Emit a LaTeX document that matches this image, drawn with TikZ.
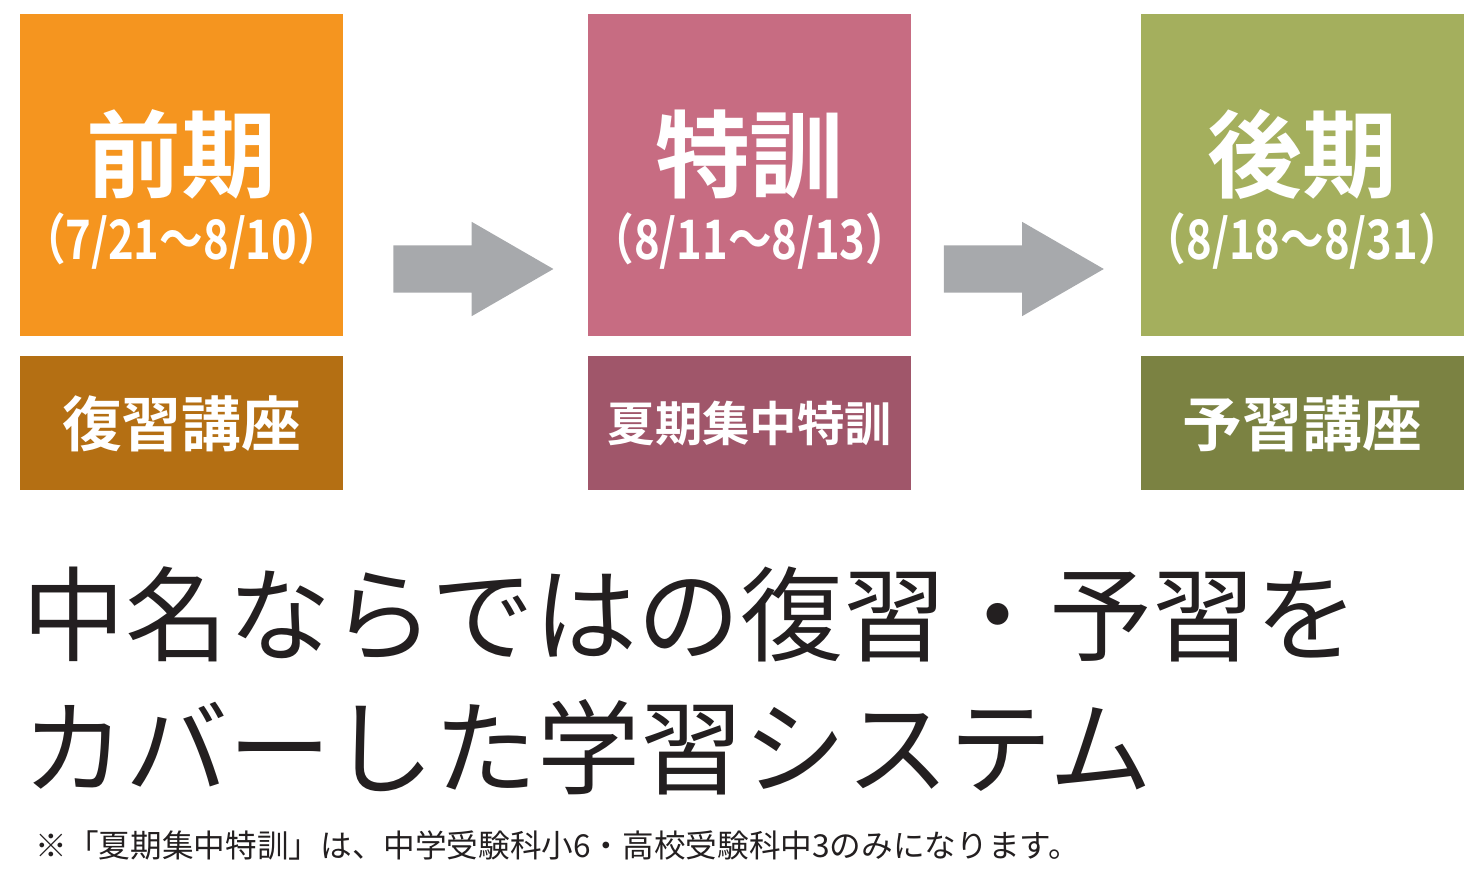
\documentclass[tikz,border=0pt]{standalone}
\usepackage{fontspec}
\setmainfont{Noto Sans CJK JP}[BoldFont={Noto Sans CJK JP Bold}]
\setsansfont{Noto Sans CJK JP}[BoldFont={Noto Sans CJK JP Bold}]
\usetikzlibrary{positioning, shapes.arrows, calc}

\definecolor{zenki}{HTML}{F5951F}
\definecolor{zenkidark}{HTML}{B46F13}
\definecolor{tokkun}{HTML}{C76C82}
\definecolor{tokkundark}{HTML}{A0566A}
\definecolor{kouki}{HTML}{A4AF5D}
\definecolor{koukidark}{HTML}{7B8242}
\definecolor{arrowgray}{HTML}{A7A9AC}
\definecolor{ink}{HTML}{231F20}

\newcommand{\kikan}[2]{{\fontsize{27}{30}\selectfont\bfseries\rule{0pt}{1.1cm}#1}\\[0.1cm]
  {\fontsize{15.5}{18}\selectfont\bfseries\scalebox{0.8}[1]{#2}}}

\begin{document}
\begin{tikzpicture} [ font=\sffamily
                    , topbox/.style={minimum width=3.23cm, minimum height=3.22cm, inner sep=0pt, text=white, align=center}
                    , subbox/.style={minimum width=3.23cm, minimum height=1.34cm, inner sep=0pt, text=white, font=\sffamily\bfseries}
                    , blockarrow/.style={shape=single arrow, fill=arrowgray, inner xsep=0pt, inner ysep=0.23cm,
                                         minimum height=1.6cm, minimum width=0.93cm,
                                         single arrow head extend=0.235cm, single arrow tip angle=60}
                    , catch/.style={anchor=west, text=ink, inner sep=0pt, font=\sffamily\fontsize{29.3}{30}\selectfont}
                    ]

  \useasboundingbox (0,0) rectangle (14.77,-8.81);

  % --- Zenki Stack -----------------------------------------------------------
  \node [ topbox
        , fill=zenki
        ]
        (Zenki) at (1.815,-1.75) {\kikan{前期}{（7/21〜8/10）}};

  \node [ subbox
        , fill=zenkidark
        , below=0.19cm of Zenki
        ]
        (Fukushu) {\fontsize{17}{20}\selectfont 復習講座};
  % ---------------------------------------------------------------------------

  % --- Tokkun Stack ----------------------------------------------------------
  \node [ topbox
        , fill=tokkun
        , right=2.44cm of Zenki
        ]
        (Tokkun) {\kikan{特訓}{（8/11〜8/13）}};

  \node [ subbox
        , fill=tokkundark
        , below=0.19cm of Tokkun
        ]
        (Kaki) {\fontsize{13.5}{16}\selectfont 夏期集中特訓};
  % ---------------------------------------------------------------------------

  % --- Kouki Stack -----------------------------------------------------------
  \node [ topbox
        , fill=kouki
        , right=2.28cm of Tokkun
        ]
        (Kouki) {\kikan{後期}{（8/18〜8/31）}};

  \node [ subbox
        , fill=koukidark
        , below=0.19cm of Kouki
        ]
        (Yoshu) {\fontsize{17}{20}\selectfont 予習講座};
  % ---------------------------------------------------------------------------

  % --- Arrows ----------------------------------------------------------------
  \node [ blockarrow
        , right=0.49cm of Zenki.east
        , anchor=tail
        , yshift=-0.94cm
        ]
        (A1) {};

  \node [ blockarrow
        , right=0.31cm of Tokkun.east
        , anchor=tail
        , yshift=-0.94cm
        ]
        (A2) {};
  % ---------------------------------------------------------------------------

  % --- Catch Copy ------------------------------------------------------------
  \node [catch] (C1) at (0.22,-6.14) {中名ならではの復習・予習を};
  \node [catch] (C2) at (0.22,-7.47) {カバーした学習システム};

  \node [ anchor=west
        , text=ink
        , inner sep=0pt
        , font=\sffamily\fontsize{9}{11}\selectfont
        ]
        (Note) at (0.35,-8.45) {※「夏期集中特訓」は、中学受験科小6・高校受験科中3のみになります。};
  % ---------------------------------------------------------------------------
\end{tikzpicture}
\end{document}
